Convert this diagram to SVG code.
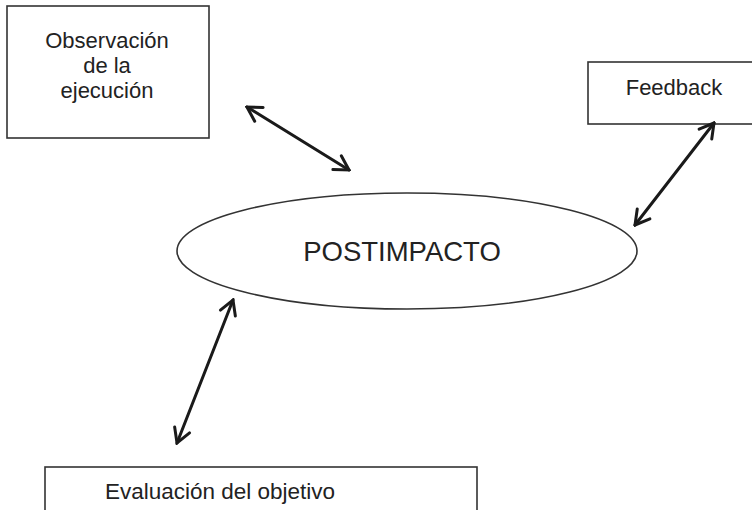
<svg xmlns="http://www.w3.org/2000/svg" width="752" height="510" viewBox="0 0 752 510">
<style>
.box{fill:#fff;stroke:#333;stroke-width:1.6}
.lbl{font-family:"Liberation Sans",Arial,sans-serif;fill:#222;text-anchor:middle}
.conn{stroke:#1a1a1a;stroke-width:3;fill:none;stroke-linecap:round}
</style>
<defs>
<marker id="ah" markerUnits="userSpaceOnUse" viewBox="-16 -11 18 22" refX="0" refY="0" markerWidth="18" markerHeight="22" orient="auto-start-reverse">
<path d="M-14,-8 L0,0 L-14,8" fill="none" stroke="#1a1a1a" stroke-width="3" stroke-linecap="round" stroke-linejoin="miter"/>
</marker>
</defs>
<rect width="752" height="510" fill="#fff"/>
<g id="observacion">
<rect class="box" x="7" y="6" width="202" height="132"/>
<text class="lbl" font-size="22" x="107" y="48">Observación</text>
<text class="lbl" font-size="22" x="107" y="73">de la</text>
<text class="lbl" font-size="22" x="107" y="98">ejecución</text>
</g>
<g id="feedback">
<rect class="box" x="588" y="62" width="170" height="62"/>
<text class="lbl" font-size="22" x="674" y="95">Feedback</text>
</g>
<g id="postimpacto">
<ellipse class="box" cx="407" cy="251" rx="230" ry="58"/>
<text class="lbl" font-size="27.5" x="402" y="261">POSTIMPACTO</text>
</g>
<g id="evaluacion">
<rect class="box" x="45" y="467" width="432" height="60"/>
<text class="lbl" font-size="22.5" x="220" y="499">Evaluación del objetivo</text>
</g>
<g id="connectors">
<line class="conn" x1="247" y1="107" x2="349" y2="170" marker-start="url(#ah)" marker-end="url(#ah)"/>
<line class="conn" x1="714" y1="123" x2="635" y2="225" marker-start="url(#ah)" marker-end="url(#ah)"/>
<line class="conn" x1="233" y1="300" x2="177" y2="443" marker-start="url(#ah)" marker-end="url(#ah)"/>
</g>
</svg>
